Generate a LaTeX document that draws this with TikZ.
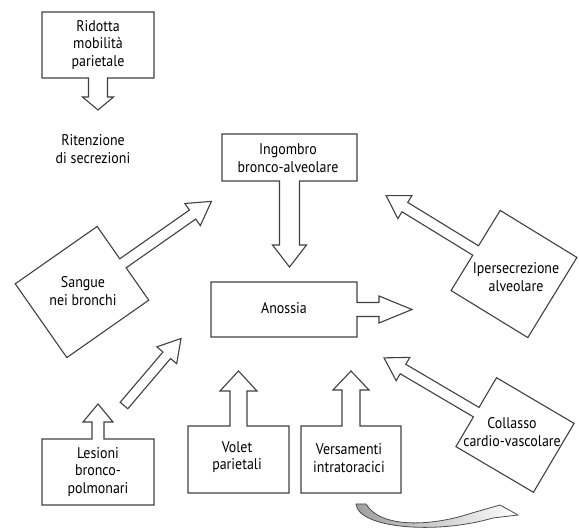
\documentclass[tikz,border=0pt]{standalone}
\usepackage{fontspec}
\setmainfont{PT Sans}[FakeStretch=0.9]
\usetikzlibrary{calc}

\tikzset{
  boxline/.style={draw=black!75,line width=1.1pt,line join=miter},
  txt/.style={align=center,font=\fontsize{15.5}{17.5}\selectfont},
  swoosh/.style={draw=black!70,line width=0.8pt,left color=gray!75,right color=white}
}
% box with a hollow arrow: centre, angle, half length, half width,
% half shaft, tip distance, head length, half head
\newcommand{\boxarrow}[8]{%
  \begin{scope}[shift={#1},rotate=#2]
    \draw[boxline] (-#3,-#4) -- (#3,-#4) -- (#3,-#5) -- ({#3+#6-#7},-#5)
      -- ({#3+#6-#7},-#8) -- ({#3+#6},0) -- ({#3+#6-#7},#8)
      -- ({#3+#6-#7},#5) -- (#3,#5) -- (#3,#4) -- (-#3,#4) -- cycle;
  \end{scope}}

\begin{document}
\begin{tikzpicture}[x=1pt,y=-1pt]
\useasboundingbox (0,0) rectangle (579,529);
\boxarrow{(98,45)}{-90}{33}{56}{9.5}{32}{13}{15.5}
\node[txt] (ridotta) at (98,45) {Ridotta\\mobilità\\parietale};
\node[txt] (ritenzione) at (93,149) {Ritenzione\\di secrezioni};
\boxarrow{(289.5,157.5)}{-90}{23.5}{67.5}{10}{86}{22}{17}
\node[txt] (ingombro) at (288,158) {Ingombro\\bronco-alveolare};
\boxarrow{(284,309.5)}{0}{73}{27.5}{7}{55}{33}{13.5}
\node[txt] (anossia) at (284,308) {Anossia};
\boxarrow{(82,292)}{35}{50}{45}{5.5}{108}{23}{13.5}
\node[txt] (sangue) at (83,291) {Sangue\\nei bronchi};
\boxarrow{(514,274)}{148.5}{45}{47}{5.5}{105}{22}{13.5}
\node[txt] (iper) at (516,277) {Ipersecrezione\\alveolare};
\boxarrow{(515,435)}{149.5}{45}{40}{5.5}{107}{22}{13.5}
\node[txt] (collasso) at (512,432) {Collasso\\cardio-vascolare};
\boxarrow{(98,472)}{90}{33}{56}{6}{35}{18}{15}
\node[txt] (lesioni) at (98,472) {Lesioni\\bronco-\\polmonari};
\boxarrow{(238.5,459.5)}{90}{33.5}{50.5}{8.5}{55}{20}{18.5}
\node[txt] (volet) at (237,457) {Volet\\parietali};
\boxarrow{(351,459.5)}{90}{33.5}{50}{9}{55}{19}{18}
\node[txt] (versamenti) at (349,458) {Versamenti\\intratoracici};
% free arrow
\coordinate (tail) at (124,405.5);
\boxarrow{(tail)}{49.6}{0}{5}{5}{88}{22}{13}
% curved arrow
\draw[swoosh] (356,504)
  .. controls (358,528) and (435,535) .. (493,518) -- (518,515)
  -- (500,505) -- (472,513) .. controls (430,527) and (380,528) .. (366,504)
  -- cycle;
\end{tikzpicture}
\end{document}
